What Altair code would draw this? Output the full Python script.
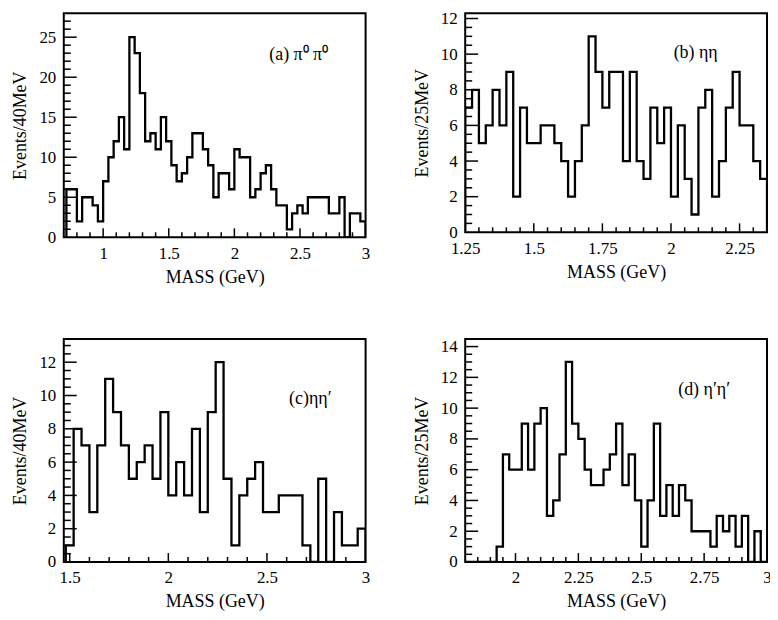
import altair as alt
import numpy as np
import pandas as pd

# ---------------- data ----------------
# (a) pi0 pi0 : 40 MeV bins starting at 0.72 GeV
A_START, A_WIDTH = 0.72, 0.04
A_COUNTS = [6, 6, 2, 5, 5, 4, 2,
            7, 10, 12, 15, 11, 25, 23, 18, 12, 13, 11, 15, 12, 9, 7, 8, 10,
            13, 13, 11, 9, 5, 8, 8, 6,
            11, 10, 10, 5, 6, 8, 9, 6, 4, 4,
            1, 3, 4, 3, 5, 5, 5, 5, 3, 3, 5, 0, 3, 3, 2]

# (b) eta eta : 25 MeV bins starting at 1.25 GeV
B_START, B_WIDTH = 1.25, 0.025
B_COUNTS = [7, 8, 5, 6, 8, 6, 9, 2, 7, 5, 5, 6, 6, 5, 4, 2, 4, 6, 11, 9,
            7, 9, 9, 4, 9, 4, 3, 7, 5, 7, 2, 6, 3, 1, 7, 8, 2, 4, 7, 9,
            6, 6, 4, 3]

# (c) eta eta' : 40 MeV bins starting at 1.48 GeV
C_START, C_WIDTH = 1.48, 0.04
C_COUNTS = [1, 8, 7, 3, 7, 11, 9, 7, 5, 6, 7, 5, 9, 4, 6, 4, 8, 3, 9, 12,
            5, 1, 4, 5, 6, 3, 3, 4, 4, 4, 1, 0, 5, 0, 3, 1, 1, 2]

# (d) eta' eta' : 25 MeV bins starting at 1.80 GeV
D_START, D_WIDTH = 1.80, 0.025
D_COUNTS = [0, 0, 0, 0, 0, 1, 7, 6, 6, 9, 6, 9, 10, 3, 4, 7, 13, 9, 8, 6,
            5, 5, 6, 7, 9, 5, 7, 4, 1, 4, 9, 3, 5, 3, 5, 4, 2, 2, 2, 1,
            3, 2, 3, 1, 3, 0, 2, 0]

# axis tick labels
A_XLABELS = [1, 1.5, 2, 2.5, 3]
A_YLABELS = [0, 5, 10, 15, 20, 25]
B_XLABELS = [1.25, 1.5, 1.75, 2, 2.25]
B_YLABELS = [0, 2, 4, 6, 8, 10, 12]
C_XLABELS = [1.5, 2, 2.5, 3]
C_YLABELS = [0, 2, 4, 6, 8, 10, 12]
D_XLABELS = [2, 2.25, 2.5, 2.75, 3]
D_YLABELS = [0, 2, 4, 6, 8, 10, 12, 14]

TITLE_X = "MASS (GeV)"
A_YTITLE = "Events/40MeV"
B_YTITLE = "Events/25MeV"
C_YTITLE = "Events/40MeV"
D_YTITLE = "Events/25MeV"

A_TAG = "(a) \u03c0\u2070 \u03c0\u2070"
B_TAG = "(b) \u03b7\u03b7"
C_TAG = "(c)\u03b7\u03b7\u2032"
D_TAG = "(d) \u03b7\u2032\u03b7\u2032"

FONT = "Liberation Serif"
LABEL_EXPR = "format(datum.value, '.6~g')"


def step_table(start, width, counts):
    xs, ys = [start], [0]
    for i, c in enumerate(counts):
        xs.append(round(start + i * width, 4))
        ys.append(c)
    end = round(start + len(counts) * width, 4)
    xs += [end, end]
    ys += [counts[-1], 0]
    return pd.DataFrame({"mass": xs, "events": ys, "order": list(range(len(xs)))})


def tick_list(lo, hi, step, exclude=()):
    vals = np.round(np.arange(lo, hi + step / 2, step), 4)
    return [float(v) for v in vals if not any(abs(v - e) < 1e-6 for e in exclude)]


def panel(counts, start, width, xdom, ydom, xlabels, ylabels, ytitle,
          xminor, xmajor, yminor, ymajor, tag, tagpos, W, H):
    df = step_table(start, width, counts)
    xscale = alt.Scale(domain=xdom, nice=False, zero=False)
    yscale = alt.Scale(domain=ydom, nice=False, zero=False)
    xaxis = alt.Axis(values=xlabels, labelExpr=LABEL_EXPR, title=TITLE_X, ticks=False,
                     domain=False, grid=False, labelPadding=8, titlePadding=7,
                     labelFont=FONT, titleFont=FONT, labelFontSize=17,
                     titleFontSize=18, titleFontWeight="normal",
                     labelColor="black", titleColor="black", labelFlush=False,
                     labelOverlap=False)
    yaxis = alt.Axis(values=ylabels, labelExpr=LABEL_EXPR, title=ytitle, ticks=False,
                     domain=False, grid=False, labelPadding=8, titlePadding=9,
                     labelFont=FONT, titleFont=FONT, labelFontSize=17,
                     titleFontSize=18, titleFontWeight="normal",
                     labelColor="black", titleColor="black", labelFlush=False,
                     labelOverlap=False)
    X = lambda: alt.X("mass:Q", scale=xscale, axis=xaxis, title=TITLE_X)
    Y = lambda: alt.Y("events:Q", scale=yscale, axis=yaxis, title=ytitle)

    hist = alt.Chart(df).mark_line(interpolate="step-after", color="black",
                                   strokeWidth=2.3, clip=True).encode(
        x=X(), y=Y(), order="order:Q",
    )

    def xticks(vals, L):
        return alt.Chart(pd.DataFrame({"mass": vals})).mark_rule(
            color="black", strokeWidth=1.5).encode(
            x=X(), y=alt.value(H), y2=alt.value(H - L))

    def yticks(vals, L):
        return alt.Chart(pd.DataFrame({"events": vals})).mark_rule(
            color="black", strokeWidth=1.5).encode(
            y=Y(), x=alt.value(0), x2=alt.value(L))

    label = alt.Chart(pd.DataFrame({"mass": [tagpos[0]], "events": [tagpos[1]],
                                    "t": [tag]})).mark_text(
        font=FONT, fontSize=18, color="black", align="center",
        baseline="middle").encode(x=X(), y=Y(), text="t:N")

    return alt.layer(hist, xticks(xminor, 5), xticks(xmajor, 9),
                     yticks(yminor, 7), yticks(ymajor, 13), label).properties(
        width=W, height=H)


PW = 303  # plot width of every panel

pa = panel(A_COUNTS, A_START, A_WIDTH, [0.7, 3.0], [0, 28], A_XLABELS, A_YLABELS,
           A_YTITLE,
           tick_list(0.8, 2.9, 0.1, exclude=[1, 1.5, 2, 2.5]), [1, 1.5, 2, 2.5],
           tick_list(1, 27, 1, exclude=[5, 10, 15, 20, 25]), [5, 10, 15, 20, 25],
           A_TAG, (2.49, 22.8), PW, 225)

pb = panel(B_COUNTS, B_START, B_WIDTH, [1.25, 2.35], [0, 12.3], B_XLABELS, B_YLABELS,
           B_YTITLE,
           tick_list(1.30, 2.30, 0.05, exclude=[1.5, 1.75, 2, 2.25]), [1.5, 1.75, 2, 2.25],
           tick_list(0.5, 12, 0.5, exclude=[2, 4, 6, 8, 10, 12]), [2, 4, 6, 8, 10, 12],
           B_TAG, (2.09, 10.05), PW, 220)

pc = panel(C_COUNTS, C_START, C_WIDTH, [1.47, 3.0], [0, 13.4], C_XLABELS, C_YLABELS,
           C_YTITLE,
           tick_list(1.5, 2.9, 0.1, exclude=[1.5, 2, 2.5]), [1.5, 2, 2.5],
           tick_list(0.5, 13, 0.5, exclude=[2, 4, 6, 8, 10, 12]), [2, 4, 6, 8, 10, 12],
           C_TAG, (2.72, 9.76), PW, 224)

pd_ = panel(D_COUNTS, D_START, D_WIDTH, [1.8, 3.0], [0, 14.5], D_XLABELS, D_YLABELS,
            D_YTITLE,
            tick_list(1.85, 2.95, 0.05, exclude=[2, 2.25, 2.5, 2.75]), [2, 2.25, 2.5, 2.75],
            tick_list(0.5, 14, 0.5, exclude=[2, 4, 6, 8, 10, 12, 14]), [2, 4, 6, 8, 10, 12, 14],
            D_TAG, (2.75, 11.2), PW, 224)

chart = alt.concat(pa, pb, pc, pd_, columns=2,
                   spacing={"row": 102, "column": 100},
                   bounds="flush").properties(
    padding={"left": 3, "top": -1, "right": -3, "bottom": 0}
).configure_view(stroke="black", strokeWidth=2)

chart.save("out.html", embed_options={"renderer": "svg", "actions": False})
